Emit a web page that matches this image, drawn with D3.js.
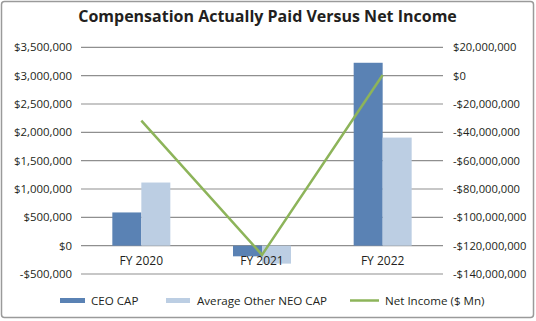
<!DOCTYPE html>
<html>
<head>
<meta charset="utf-8">
<script src="https://cdn.jsdelivr.net/npm/d3@7"></script>
<style>
  body { margin: 0; background: #fff; }
  text { font-family: "Open Sans", sans-serif; fill: #231f20; }
</style>
</head>
<body>
<div id="chart"></div>
<script>
var years = ["FY 2020", "FY 2021", "FY 2022"];
var ceoCap = [586000, -188000, 3227000];
var neoCap = [1114000, -317000, 1907000];
var netIncome = [-31700000, -126500000, 500000];
var leftTicks = [-500000, 0, 500000, 1000000, 1500000, 2000000, 2500000, 3000000, 3500000];
var rightTicks = [-140000000, -120000000, -100000000, -80000000, -60000000, -40000000, -20000000, 0, 20000000];
var seriesNames = ["CEO CAP", "Average Other NEO CAP", "Net Income ($ Mn)"];
var colors = ["#5a82b4", "#bccee3", "#8db45a"];

var svgWidth = 536;
var svgHeight = 321;

var svg = d3.select("#chart")
  .append("svg")
  .attr("width", svgWidth)
  .attr("height", svgHeight);

// outer frame
svg.append("rect")
  .attr("x", 1.5).attr("y", 1.5)
  .attr("width", svgWidth - 4).attr("height", svgHeight - 5)
  .attr("rx", 3)
  .attr("fill", "#fff")
  .attr("stroke", "#9a9a9a")
  .attr("stroke-width", 1.5);

svg.append("text")
  .attr("x", 267.5)
  .attr("y", 22)
  .attr("text-anchor", "middle")
  .attr("font-size", 16)
  .attr("font-weight", 700)
  .text("Compensation Actually Paid Versus Net Income");

var x = d3.scaleBand()
  .domain(years)
  .range([81, 443]);

var x1 = d3.scaleBand()
  .domain([0, 1])
  .range([0, 58]);

var yLeft = d3.scaleLinear()
  .domain([-500000, 3500000])
  .range([274, 47.3]);

var yRight = d3.scaleLinear()
  .domain([-140000000, 20000000])
  .range([274, 47.3]);

var fmt = function(d) {
  var s = d3.format(",")(Math.abs(d));
  return (d < 0 ? "-$" : "$") + s;
};

// gridlines
svg.append("g")
  .selectAll("line")
  .data(leftTicks)
  .enter()
  .append("line")
  .attr("x1", 81)
  .attr("x2", 443)
  .attr("y1", d => yLeft(d))
  .attr("y2", d => yLeft(d))
  .attr("stroke", "#8f8f8f")
  .attr("stroke-width", 1.2);

var leftAxis = d3.axisLeft(yLeft).tickValues(leftTicks).tickFormat(fmt).tickSize(0).tickPadding(0);
var gl = svg.append("g")
  .attr("transform", "translate(72,0)")
  .call(leftAxis);
gl.select(".domain").remove();
gl.selectAll("text").attr("font-size", 11.4).attr("font-family", "Open Sans").attr("fill", "#231f20");

var rightAxis = d3.axisRight(yRight).tickValues(rightTicks).tickFormat(fmt).tickSize(0).tickPadding(0);
var gr = svg.append("g")
  .attr("transform", "translate(453,0)")
  .call(rightAxis);
gr.select(".domain").remove();
gr.selectAll("text").attr("font-size", 11.2).attr("font-family", "Open Sans").attr("fill", "#231f20");

// bars
var groups = svg.append("g")
  .selectAll("g")
  .data(years)
  .enter()
  .append("g")
  .attr("transform", d => `translate(${x(d) + x.bandwidth() / 2 - 29},0)`);

groups.selectAll("rect")
  .data((d, i) => [ceoCap[i], neoCap[i]])
  .enter()
  .append("rect")
  .attr("x", (d, j) => x1(j))
  .attr("width", x1.bandwidth())
  .attr("y", d => yLeft(Math.max(0, d)))
  .attr("height", d => Math.abs(yLeft(d) - yLeft(0)))
  .attr("fill", (d, j) => colors[j]);

// category labels
svg.append("g")
  .selectAll("text")
  .data(years)
  .enter()
  .append("text")
  .attr("x", d => x(d) + x.bandwidth() / 2)
  .attr("y", 265)
  .attr("text-anchor", "middle")
  .attr("font-size", 12)
  .text(d => d);

// net income line
var line = d3.line()
  .x((d, i) => x(years[i]) + x.bandwidth() / 2)
  .y(d => yRight(d));

svg.append("path")
  .datum(netIncome)
  .attr("d", line)
  .attr("fill", "none")
  .attr("stroke", colors[2])
  .attr("stroke-width", 2.5);

// legend
var legendY = 300.5;
var legendItems = [
  { x: 60, w: 25, tx: 91 },
  { x: 166, w: 24, tx: 197 },
  { x: 350, w: 29, tx: 385 }
];

legendItems.forEach(function(item, i) {
  if (i < 2) {
    svg.append("rect")
      .attr("x", item.x)
      .attr("y", legendY - 2.5)
      .attr("width", item.w)
      .attr("height", 5)
      .attr("fill", colors[i]);
  } else {
    svg.append("line")
      .attr("x1", item.x)
      .attr("x2", item.x + item.w)
      .attr("y1", legendY)
      .attr("y2", legendY)
      .attr("stroke", colors[i])
      .attr("stroke-width", 2.5);
  }
  svg.append("text")
    .attr("x", item.tx)
    .attr("y", legendY + 4)
    .attr("font-size", 11.6)
    .text(seriesNames[i]);
});
</script>
</body>
</html>
